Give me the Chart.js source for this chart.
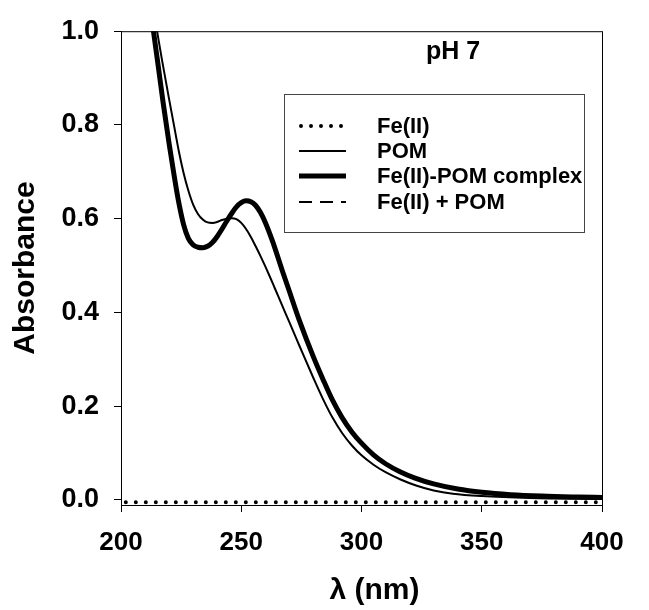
<!DOCTYPE html>
<html>
<head>
<meta charset="utf-8">
<script src="https://cdn.jsdelivr.net/npm/chart.js@4.4.1/dist/chart.umd.min.js"></script>
<style>
  html, body { margin: 0; padding: 0; background: #fff; }
  #wrap { width: 649px; height: 610px; }
</style>
</head>
<body>
<div id="wrap"><canvas id="uvChart" width="649" height="610"></canvas></div>
<script>
// Values (wavelength in nm, absorbance)
const feWavelengths = [202, 250, 300, 350, 400];
const feAbsorbance = [-0.005, -0.005, -0.005, -0.005, -0.005];

const pomWavelengths = [214, 215, 217, 220, 222, 224, 226, 228, 230, 232, 234, 236, 238, 240, 242, 244, 246, 248, 250, 252, 254, 256, 258, 260, 262, 264, 267, 270, 273, 276, 280, 284, 288, 292, 296, 300, 305, 310, 316, 323, 330, 338, 350, 370, 400];
const pomAbsorbance = [1.03, 1.0, 0.94, 0.855, 0.8, 0.745, 0.698, 0.66, 0.63, 0.61, 0.598, 0.592, 0.591, 0.593, 0.597, 0.6, 0.601, 0.599, 0.591, 0.578, 0.561, 0.541, 0.52, 0.498, 0.475, 0.451, 0.415, 0.379, 0.343, 0.307, 0.26, 0.215, 0.175, 0.142, 0.116, 0.095, 0.075, 0.059, 0.044, 0.03, 0.02, 0.013, 0.008, 0.004, 0.002];

const complexWavelengths = [212, 213.5, 215.5, 217.5, 220, 222, 224, 226, 228, 230, 232, 234, 236, 238, 240, 242, 244, 246, 248, 250, 252, 254, 256, 258, 260, 263, 267, 270, 274, 280, 284, 288, 292, 296, 300, 305, 310, 316, 322, 330, 340, 350, 362, 375, 390, 400];
const complexAbsorbance = [1.06, 1.0, 0.925, 0.848, 0.76, 0.695, 0.635, 0.588, 0.558, 0.544, 0.539, 0.538, 0.541, 0.549, 0.562, 0.578, 0.595, 0.611, 0.625, 0.634, 0.638, 0.636, 0.628, 0.613, 0.592, 0.552, 0.49, 0.445, 0.385, 0.305, 0.257, 0.212, 0.175, 0.145, 0.121, 0.096, 0.077, 0.06, 0.047, 0.034, 0.023, 0.016, 0.011, 0.008, 0.006, 0.005];

// Fe(II) + POM sum lies under the complex curve
const sumWavelengths = complexWavelengths;
const sumAbsorbance = complexAbsorbance;

const xTicks = [200, 250, 300, 350, 400];
const yTicks = [0.0, 0.2, 0.4, 0.6, 0.8, 1.0];
const seriesLabels = ['Fe(II)', 'POM', 'Fe(II)-POM complex', 'Fe(II) + POM'];

const FONT = 'Liberation Sans, Arial, Helvetica, sans-serif';

function toPoints(xs, ys) {
  return xs.map((x, i) => ({ x: x, y: ys[i] }));
}

// Frame around the plot area
const framePlugin = {
  id: 'frame',
  afterDraw(chart) {
    const { ctx, chartArea: a } = chart;
    ctx.save();
    ctx.strokeStyle = '#000';
    ctx.lineWidth = 1;
    ctx.strokeRect(a.left + 0.5, a.top + 0.5, a.right - a.left, a.bottom - a.top);
    ctx.restore();
  }
};

// Boxed legend, pH label and x title
const boxLegendPlugin = {
  id: 'boxLegend',
  afterDraw(chart) {
    const ctx = chart.ctx;
    const a = chart.chartArea;
    ctx.save();
    ctx.fillStyle = '#000';
    ctx.textAlign = 'center';
    ctx.textBaseline = 'middle';
    ctx.font = 'bold 25px ' + FONT;
    ctx.fillText('pH 7', 453, 52);

    ctx.font = 'bold 30px ' + FONT;
    ctx.fillText('λ (nm)', (a.left + a.right) / 2 + 13, 591);

    ctx.strokeStyle = '#444';
    ctx.lineWidth = 1;
    ctx.strokeRect(284.5, 94.5, 300, 138);

    const rows = [126, 151, 176, 202];
    chart.data.datasets.forEach((ds, i) => {
      const y = rows[i];
      ctx.save();
      ctx.strokeStyle = ds.borderColor;
      ctx.lineWidth = ds.borderWidth;
      ctx.lineCap = ds.borderCapStyle || 'butt';
      ctx.setLineDash(ds.borderDash || []);
      ctx.beginPath();
      ctx.moveTo(i === 0 ? 301 : 299, y);
      ctx.lineTo(346, y);
      ctx.stroke();
      ctx.restore();
      ctx.fillStyle = '#000';
      ctx.font = 'bold 22px ' + FONT;
      ctx.textAlign = 'left';
      ctx.textBaseline = 'middle';
      ctx.fillText(ds.label, 377, y + 1);
    });
    ctx.restore();
  }
};

const ctx = document.getElementById('uvChart');
const chart = new Chart(ctx, {
  type: 'line',
  data: {
    datasets: [
      {
        label: seriesLabels[0],
        data: toPoints(feWavelengths, feAbsorbance),
        borderColor: '#000',
        borderWidth: 4,
        borderDash: [0, 10],
        borderCapStyle: 'round',
        pointRadius: 0,
        order: 4
      },
      {
        label: seriesLabels[1],
        data: toPoints(pomWavelengths, pomAbsorbance),
        borderColor: '#000',
        borderWidth: 2,
        pointRadius: 0,
        cubicInterpolationMode: 'monotone',
        order: 2
      },
      {
        label: seriesLabels[2],
        data: toPoints(complexWavelengths, complexAbsorbance),
        borderColor: '#000',
        borderWidth: 5,
        pointRadius: 0,
        cubicInterpolationMode: 'monotone',
        order: 1
      },
      {
        label: seriesLabels[3],
        data: toPoints(sumWavelengths, sumAbsorbance),
        borderColor: '#000',
        borderWidth: 2,
        borderDash: [13, 8],
        pointRadius: 0,
        cubicInterpolationMode: 'monotone',
        order: 3
      }
    ]
  },
  options: {
    responsive: false,
    animation: false,
    layout: { padding: { top: 27, right: 47, left: 0, bottom: 0 } },
    plugins: {
      legend: { display: false },
      tooltip: { enabled: false }
    },
    scales: {
      x: {
        type: 'linear',
        min: 200,
        max: 400,
        afterFit(scale) { scale.height = 105; },
        afterBuildTicks(scale) { scale.ticks = xTicks.map(v => ({ value: v })); },
        ticks: {
          color: '#000',
          padding: 15,
          font: { family: FONT, size: 26, weight: 'bold' },
          callback: v => String(v)
        },
        grid: { drawOnChartArea: false, drawTicks: true, tickLength: 7, tickColor: '#000', tickWidth: 1 },
        border: { display: true, color: '#000', width: 1 },
        title: { display: false }
      },
      y: {
        type: 'linear',
        min: -0.011,
        max: 1.0,
        afterFit(scale) { scale.width = 121; },
        afterBuildTicks(scale) { scale.ticks = yTicks.map(v => ({ value: v })); },
        ticks: {
          color: '#000',
          padding: 15,
          font: { family: FONT, size: 27, weight: 'bold' },
          callback: v => v.toFixed(1)
        },
        grid: { drawOnChartArea: false, drawTicks: true, tickLength: 7, tickColor: '#000', tickWidth: 1 },
        border: { display: true, color: '#000', width: 1 },
        title: {
          display: true,
          text: 'Absorbance',
          color: '#000',
          padding: { top: 11, bottom: 0 },
          font: { family: FONT, size: 30, weight: 'bold', lineHeight: 1 }
        }
      }
    }
  },
  plugins: [framePlugin, boxLegendPlugin]
});
</script>
</body>
</html>
